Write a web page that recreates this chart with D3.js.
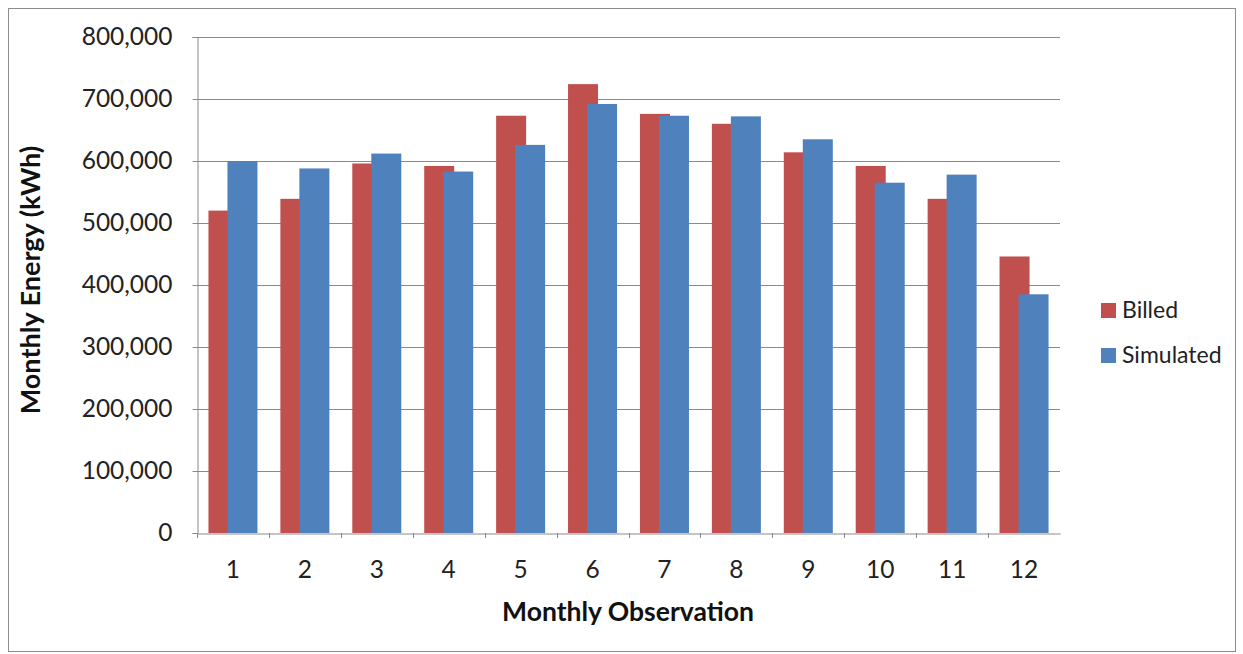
<!DOCTYPE html>
<html>
<head>
<meta charset="utf-8">
<script src="https://cdn.jsdelivr.net/npm/d3@7"></script>
<style>
  html, body { margin: 0; padding: 0; background: #fff; }
  svg { display: block; }
  text { font-family: Lato, "Open Sans", sans-serif; }
</style>
</head>
<body>
<svg id="chart" width="1243" height="654"></svg>
<script>
const categories = ["1","2","3","4","5","6","7","8","9","10","11","12"];
const billed    = [520000, 539000, 596000, 592000, 673000, 724000, 676000, 660000, 614000, 592000, 539000, 446000];
const simulated = [600000, 588000, 612000, 583000, 626000, 692000, 673000, 672000, 635000, 565000, 578000, 385000];
const seriesNames = ["Billed", "Simulated"];
const seriesColors = ["#C0504D", "#4F81BD"];
const yTicks = [0, 100000, 200000, 300000, 400000, 500000, 600000, 700000, 800000];

const svg = d3.select("#chart");
const plot = { left: 197, right: 1060, top: 37, bottom: 533 };

// outer border
svg.append("rect").attr("x", 8.5).attr("y", 8.5).attr("width", 1227).attr("height", 643)
  .attr("fill", "#fff").attr("stroke", "#8c8c8c").attr("stroke-width", 1);

const x = d3.scaleBand().domain(categories).range([plot.left, plot.right]).paddingInner(0).paddingOuter(0);
const y = d3.scaleLinear().domain([0, 800000]).range([plot.bottom, plot.top]);

// gridlines
svg.append("g").selectAll("line").data(yTicks.filter(d => d > 0)).join("line")
  .attr("x1", plot.left).attr("x2", plot.right)
  .attr("y1", d => Math.round(y(d)) + 0.5).attr("y2", d => Math.round(y(d)) + 0.5)
  .attr("stroke", "#8a8a8a").attr("stroke-width", 1);

// bars
const bw = 30, offset = 19;
const groupW = bw + offset;
const dataSets = [billed, simulated];
dataSets.forEach((vals, si) => {
  svg.append("g").selectAll("rect").data(categories).join("rect")
    .attr("x", (c) => x(c) + x.bandwidth() / 2 - groupW / 2 + si * offset)
    .attr("y", (c, i) => y(vals[i]))
    .attr("width", bw)
    .attr("height", (c, i) => y(0) - y(vals[i]))
    .attr("fill", seriesColors[si]);
});

// y axis
const yAxis = d3.axisLeft(y).tickValues(yTicks).tickSize(5).tickPadding(20)
  .tickFormat(d3.format(","));
const gy = svg.append("g").attr("transform", `translate(${plot.left + 0.5},0)`).call(yAxis);
gy.select(".domain").attr("stroke", "#8a8a8a");
gy.selectAll(".tick line").attr("stroke", "#8a8a8a");
gy.selectAll(".tick text").attr("font-size", 24.5).attr("fill", "#222").attr("font-family", "Lato, sans-serif");

// x axis
const xAxis = d3.axisBottom(x).tickSize(0).tickPadding(27);
const gx = svg.append("g").attr("transform", `translate(0,${plot.bottom + 0.5})`).call(xAxis);
gx.select(".domain").attr("stroke", "#8a8a8a");
gx.selectAll(".tick text").attr("font-size", 24.5).attr("fill", "#222").attr("font-family", "Lato, sans-serif");
// category boundary ticks
svg.append("g").selectAll("line").data(categories).join("line")
  .attr("x1", c => Math.round(x(c)) + 0.5).attr("x2", c => Math.round(x(c)) + 0.5)
  .attr("y1", plot.bottom).attr("y2", plot.bottom + 5)
  .attr("stroke", "#8a8a8a");

// axis titles
svg.append("text").attr("x", 628).attr("y", 621).attr("text-anchor", "middle")
  .attr("font-size", 26.5).attr("font-weight", "bold").attr("fill", "#111")
  .text("Monthly Observation");
svg.append("text").attr("transform", "translate(40,280) rotate(-90)").attr("text-anchor", "middle")
  .attr("font-size", 27).attr("font-weight", "bold").attr("fill", "#111")
  .text("Monthly Energy (kWh)");

// legend
const lg = svg.append("g");
seriesNames.forEach((name, i) => {
  const ly = 310 + i * 45;
  lg.append("rect").attr("x", 1101).attr("y", ly - 7).attr("width", 15).attr("height", 15).attr("fill", seriesColors[i]);
  lg.append("text").attr("x", 1122).attr("y", ly).attr("dy", "0.35em")
    .attr("font-size", 23).attr("fill", "#222").text(name);
});
</script>
</body>
</html>
